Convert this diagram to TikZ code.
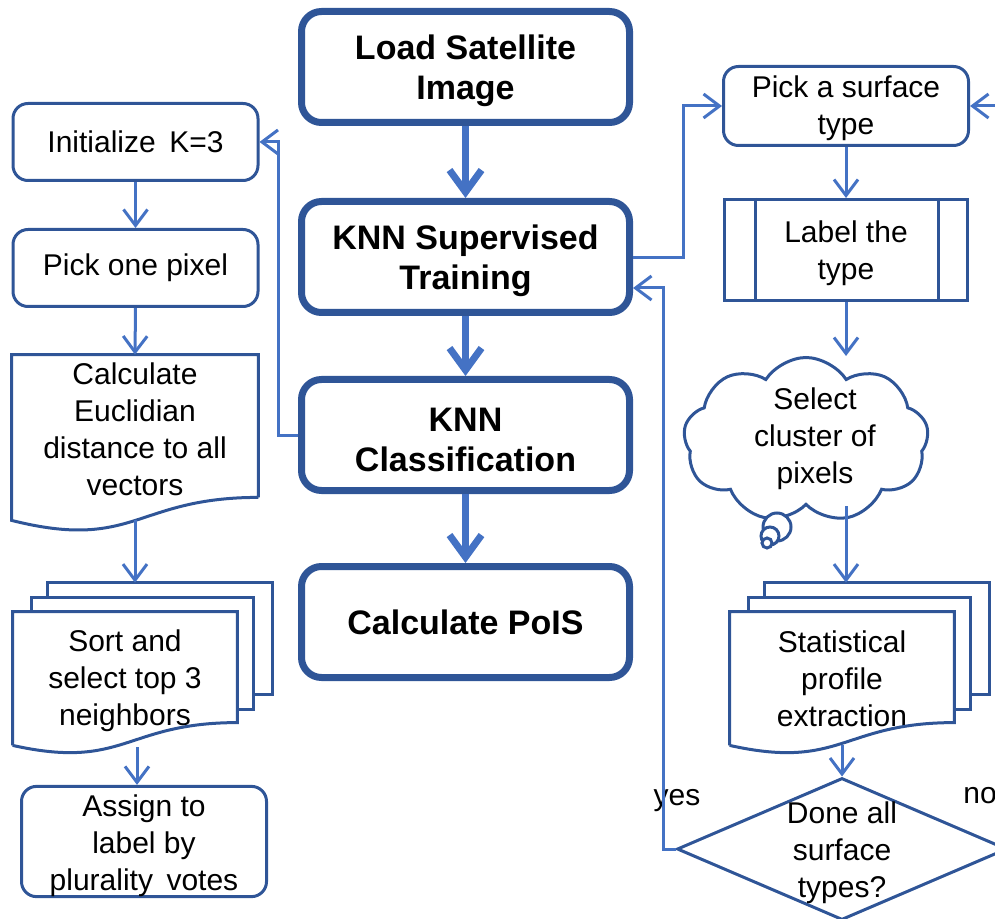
\documentclass[tikz,border=0pt]{standalone}
\usepackage{fontspec}
\setmainfont{Liberation Sans}
\usetikzlibrary{arrows.meta,shapes.geometric,shapes.symbols,calc}
\definecolor{boxblue}{HTML}{2F5597}
\definecolor{lineblue}{HTML}{4472C4}
\newcommand\textlift[1]{\rule{0pt}{#1}}
\begin{document}
\begin{tikzpicture}[x=0.5pt,y=-0.5pt,
 bigbox/.style={draw=boxblue, line width=3.5pt, rounded corners=10pt, minimum width=164pt, minimum height=55.5pt, align=center, font=\fontsize{17}{20}\selectfont\bfseries, fill=white, inner sep=0pt},
 smallbox/.style={draw=boxblue, line width=1.5pt, rounded corners=7.5pt, align=center, font=\fontsize{15}{18.5}\selectfont, inner sep=0pt},
 plain/.style={align=center, font=\fontsize{15}{18.5}\selectfont, inner sep=0pt},
 outline/.style={draw=boxblue, line width=1.5pt},
 bigarrow/.style={draw=lineblue, line width=3.5pt, -{Straight Barb[length=11pt,width=16pt]}},
 arrow/.style={draw=lineblue, line width=1.5pt, -{Straight Barb[length=8pt,width=12pt]}},
]
\useasboundingbox (0,0) rectangle (995,919);
\clip (0,0) rectangle (995,919);

% centre column
\node[bigbox] (load) at (465.5,67) {\textlift{16.5pt}Load Satellite\\Image};
\node[bigbox] (train) at (465.5,257) {\textlift{16.5pt}KNN Supervised\\Training};
\node[bigbox] (class) at (465.5,435) {\textlift{16.5pt}KNN\\Classification};
\node[bigbox] (pois) at (465.5,622) {Calculate PoIS};

% left column
\node[smallbox, minimum width=122.5pt, minimum height=38.5pt] (init) at (135.5,142) {Initialize\hspace{0.45em}K=3};
\node[smallbox, minimum width=122.5pt, minimum height=38.5pt] (pix) at (135.5,268) {Pick one pixel};
\node[plain, minimum width=123pt, minimum height=71pt] (calc) at (135,426) {\textlift{14pt}Calculate\\Euclidian\\distance to all\\vectors};
\draw[outline] (calc.south east) -- (calc.north east) -- (calc.north west) -- ($(calc.south west)+(0,23)$) .. controls ($(calc.south)+(0,54)$) and (calc.south) .. (calc.south east);

\node[plain, minimum width=112pt, minimum height=66.5pt] (sort) at (125,678.5) {\textlift{13pt}Sort and\\select top 3\\neighbors};
\draw[outline] ($(sort.north west)+(35,-14)$) -- ++(0,-15) -| ($(sort.north east)+(35,83)$) -- ++(-19,0);
\draw[outline] ($(sort.north west)+(19,0)$) -- ++(0,-14) -| ($(sort.north east)+(16,98)$) -- ++(-16,0);
\draw[outline] (sort.south west) -- (sort.north west) -- (sort.north east) -- ($(sort.north east)+(0,111)$) .. controls ($(sort.north)+(0,111)$) and ($(sort.south)+(0,25)$) .. (sort.south west);

\node[smallbox, minimum width=122.5pt, minimum height=52pt] (assign) at (144,841.5) {\textlift{15pt}Assign to\\label by\\plurality\hspace{0.45em}votes};

% right column
\node[smallbox, minimum width=122.5pt, minimum height=39.5pt] (surf) at (846,106) {\textlift{13.5pt}Pick a surface\\type};
\node[smallbox, sharp corners, minimum width=121.5pt, minimum height=50.5pt] (lbl) at (846,250) {\textlift{14pt}Label the\\type};
\draw[outline] ($(lbl.north west)+(32,0)$) -- ($(lbl.south west)+(32,0)$);
\draw[outline] ($(lbl.north east)+(-31,0)$) -- ($(lbl.south east)+(-31,0)$);

\node[cloud, draw=boxblue, line width=1.5pt, cloud puffs=9, cloud puff arc=115, aspect=1.5, minimum width=122.5pt, minimum height=82.5pt, inner sep=0pt] (clu) at (806,440) {};
\node[plain] (clut) at (815,438.5) {Select\\cluster of\\pixels};
\draw[outline, fill=white] (777,527) circle[radius=7pt];
\draw[outline, fill=white] (770,536) circle[radius=4.5pt];
\draw[outline, fill=white] (767,543) circle[radius=2.5pt];

\node[plain, minimum width=112pt, minimum height=66.5pt] (stat) at (842,678.5) {Statistical\\profile\\extraction};
\draw[outline] ($(stat.north west)+(35,-14)$) -- ++(0,-15) -| ($(stat.north east)+(35,83)$) -- ++(-19,0);
\draw[outline] ($(stat.north west)+(19,0)$) -- ++(0,-14) -| ($(stat.north east)+(16,98)$) -- ++(-16,0);
\draw[outline] (stat.south west) -- (stat.north west) -- (stat.north east) -- ($(stat.north east)+(0,111)$) .. controls ($(stat.north)+(0,111)$) and ($(stat.south)+(0,25)$) .. (stat.south west);

\node[diamond, draw=boxblue, line width=1.5pt, minimum width=165pt, minimum height=71pt, inner sep=0pt] (dec) at (842,849) {};
\node[plain] (dect) at (842,853) {Done all\\surface\\types?};

\node[plain] (yes) at (677,801) {yes};
\node[plain, anchor=west] (no) at (963,796) {no};

% thick arrows
\draw[bigarrow] (load.south) -- (train.north);
\draw[bigarrow] (train.south) -- (class.north);
\draw[bigarrow] (class.south) -- (pois.north);

% left arrows
\draw[arrow] (init.south) -- (pix.north);
\draw[arrow] (pix.south) -- (calc.north);
\coordinate (calcb) at ($(calc.south)+(0,23)$);
\draw[arrow] (calcb) -- ($(sort.north)+(10,-29)$);
\coordinate (sortb) at ($(sort.south)+(12,2)$);
\draw[arrow] (sortb) -- (sortb |- assign.north);
\draw[arrow] (class.west) -- ++(-20,0) |- (init.east);

% right arrows
\draw[arrow] ($(train.east)+(0,1)$) -- ++(50,0) |- (surf.west);
\draw[arrow] (surf.south) -- (lbl.north);
\draw[arrow] (lbl.south) -- (lbl.south |- clu.north);
\coordinate (statin) at ($(stat.north)+(4,-29)$);
\draw[arrow] (statin |- clu.south) -- (statin);
\draw[arrow] (stat.south) -- (dec.north);
\draw[arrow] (dec.west) -- ++(-12,0) |- ($(train.east)+(0,31)$);
\draw[arrow] (dec.east) -- ++(15,0) |- (surf.east);
\end{tikzpicture}
\end{document}
